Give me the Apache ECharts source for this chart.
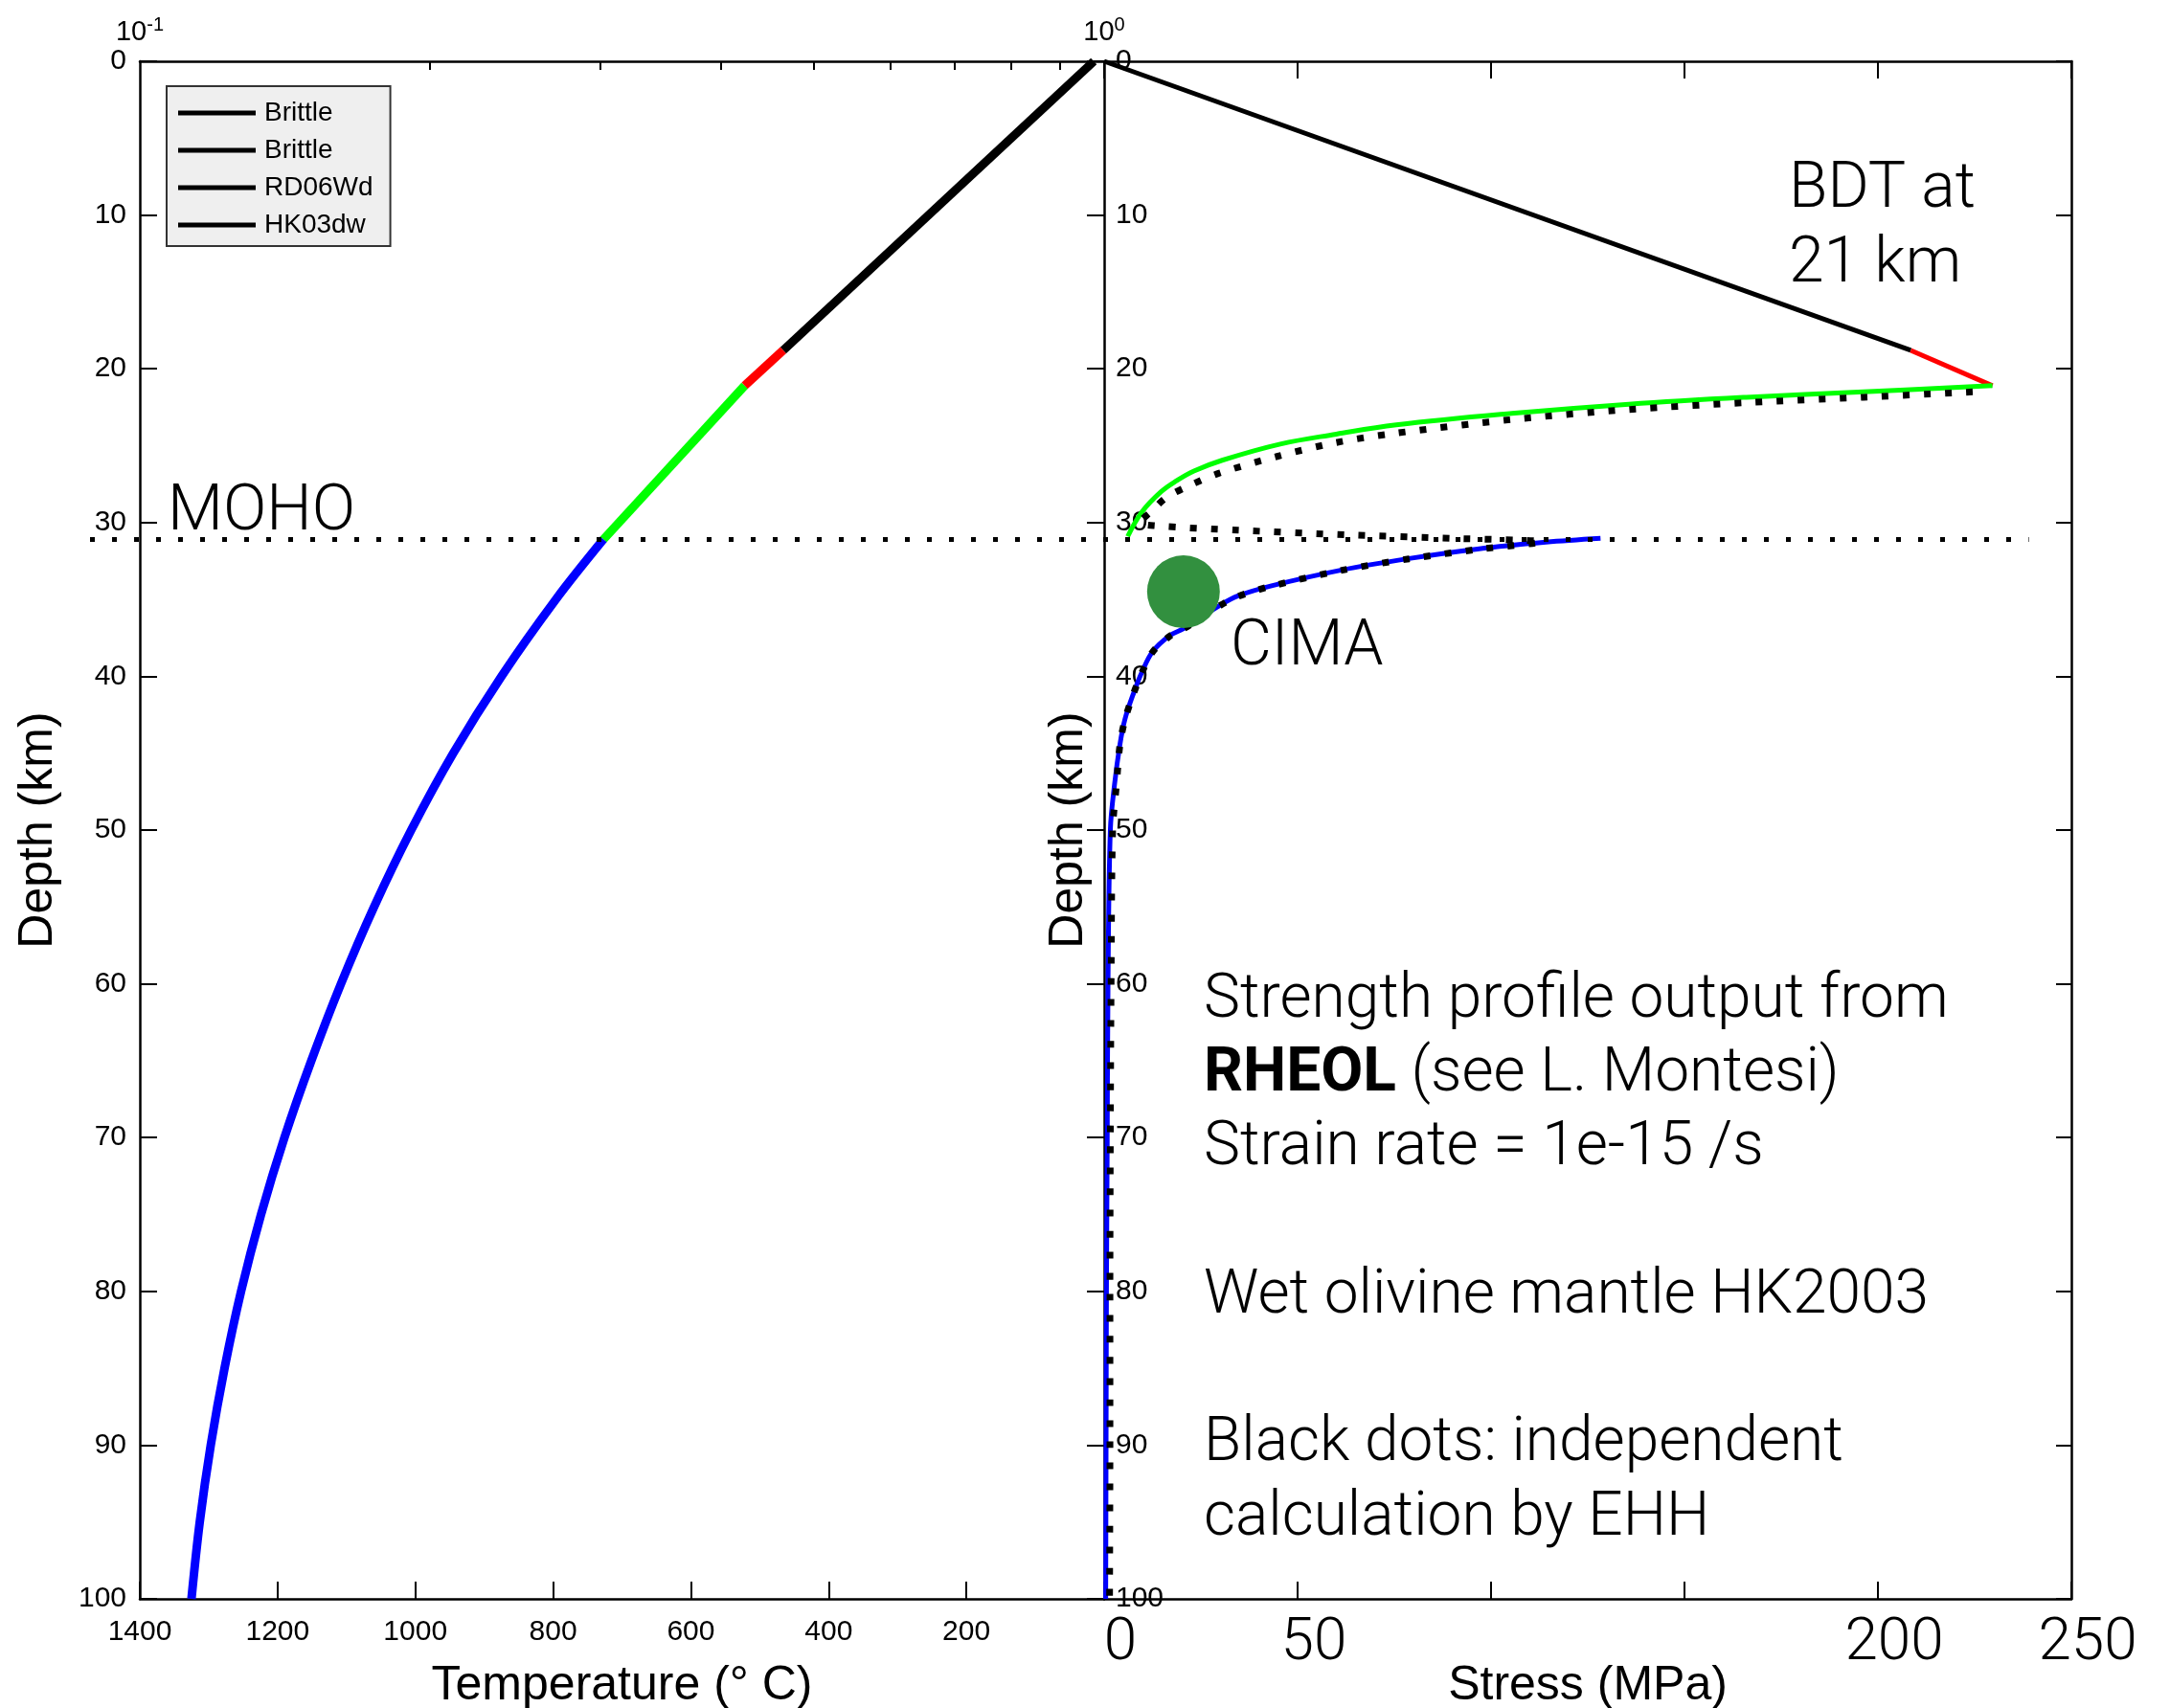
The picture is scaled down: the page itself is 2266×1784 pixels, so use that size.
<!DOCTYPE html>
<html>
<head>
<meta charset="utf-8">
<title>Strength profile</title>
<script src="https://cdn.jsdelivr.net/npm/echarts@6/dist/echarts.min.js"></script>
<style>
  html, body { margin: 0; padding: 0; background: #fff; }
  #chart { width: 2266px; height: 1784px; }
</style>
</head>
<body>
<div id="chart"></div>
<script>
// ---- data: [temperature (deg C) or stress (MPa), depth (km)] ----

// geotherm (left panel)
const geoBrittle = [[15, 0], [466, 18.8]];
const geoTransition = [[466, 18.8], [522, 21.1]];
const geoCrust = [[522, 21.1], [727, 31.1]];
const geoMantle = [
  [727, 31.1], [796, 35], [875, 40], [945, 45], [1006, 50], [1060, 55], [1108, 60],
  [1151, 65], [1190, 70], [1224, 75], [1253, 80], [1277, 85], [1297, 90], [1313, 95], [1325, 100]
];

// strength profile from RHEOL (right panel)
const sigBrittle = [[0, 0], [208.5, 18.8]];
const sigTransition = [[208.5, 18.8], [229.6, 21.1]];
const sigCrust = [
  [229.6, 21.1], [196.3, 21.5], [166, 21.85], [135.6, 22.3], [105.4, 22.9], [75.5, 23.65],
  [60, 24.25], [45.5, 24.9], [30.5, 25.95], [23.2, 26.65], [18.8, 27.27], [14.7, 28.0],
  [9.8, 29.3], [6.1, 30.9]
];
const sigMantle = [
  [128.3, 31.03], [114.2, 31.28], [96.5, 31.72], [78.8, 32.34], [61.1, 33.1], [43.5, 34.1],
  [34.6, 34.77], [29.8, 35.4], [20.5, 36.9], [16.9, 37.36], [12.5, 38.4], [9.9, 39.65],
  [7.6, 41.1], [5.4, 42.77], [4.1, 44.4], [2.7, 47], [1.6, 50], [1.0, 60], [0.8, 70],
  [0.6, 80], [0.5, 90], [0.4, 100]
];

// independent calculation (EHH), black dots
const sigEHH = [
  [224.5, 21.5], [196.3, 21.85], [166, 22.2], [135.6, 22.65], [105.4, 23.3], [75, 24.2],
  [59.9, 24.8], [44.7, 25.7], [29.6, 26.8], [22, 27.6], [15.9, 28.4], [12.1, 29.3],
  [9.2, 30.0], [12.9, 30.2], [34.6, 30.5], [62.9, 30.8], [90.3, 31.03], [113, 31.25],
  [96.5, 31.75], [78.8, 32.36], [61.1, 33.12], [43.5, 34.12], [34.6, 34.8], [29.8, 35.42],
  [20.5, 36.92], [16.9, 37.4], [12.5, 38.42], [9.9, 39.68], [7.6, 41.12], [5.4, 42.8],
  [4.1, 44.42], [3.2, 47], [2.2, 50], [1.8, 60], [1.6, 70], [1.5, 80], [1.5, 90], [1.4, 100]
];

const cimaPoint = [[20.5, 34.5]];
const mohoDepth = 31.1;
const mohoStressEnd = 239;

// axis ticks / labels
const logTickValues = [0.2, 0.3, 0.4, 0.5, 0.6, 0.7, 0.8, 0.9];
const logLabelExponents = [-1, 0];
const stressLabelValues = [0, 50, 200, 250];
const legendNames = ['Brittle', 'Brittle ', 'RD06Wd', 'HK03dw'];

const TICK_FONT = '"Liberation Sans", Arial, Helvetica, sans-serif';
const NOTE_FONT = 'Roboto, "Liberation Sans", Arial, sans-serif';

const chart = echarts.init(document.getElementById('chart'));

// frames sit on the grid edges, never on the zero of the other axis
const axisLine = { show: true, onZero: false, lineStyle: { color: '#000', width: 2.5 } };
const nameStyle = { fontSize: 50, color: '#000', fontFamily: TICK_FONT };
const tickLabel = { fontSize: 30, color: '#000', fontFamily: TICK_FONT };
function tick(inside, length) {
  return { show: true, inside: inside, length: length, lineStyle: { color: '#000', width: 2 } };
}

function line(name, xi, yi, data, color, width, z, extra) {
  return Object.assign({
    name: name,
    type: 'line',
    xAxisIndex: xi,
    yAxisIndex: yi,
    data: data,
    symbol: 'none',
    showSymbol: false,
    silent: true,
    z: z || 2,
    lineStyle: { color: color, width: width, cap: 'butt', join: 'round' }
  }, extra || {});
}

const option = {
  animation: false,
  backgroundColor: '#fff',
  // fixed panel boxes: don't let the axis names push the plots around
  grid: [
    { left: 146, top: 64, width: 1007, height: 1606, outerBoundsMode: 'none', containLabel: false },
    { left: 1153, top: 64, width: 1010, height: 1606, outerBoundsMode: 'none', containLabel: false }
  ],
  legend: {
    orient: 'vertical',
    left: 174,
    top: 90,
    data: legendNames,
    icon: 'rect',
    itemWidth: 81,
    itemHeight: 5,
    itemGap: 11,
    padding: [14, 18, 8, 12],
    backgroundColor: '#efefef',
    borderColor: '#333',
    borderWidth: 2,
    selectedMode: false,
    formatter: n => n.trim(),
    textStyle: { fontSize: 28, color: '#000', fontFamily: TICK_FONT, padding: [0, 0, 0, 4] }
  },
  xAxis: [
    {
      gridIndex: 0, type: 'value', position: 'bottom', inverse: true,
      min: 0, max: 1400, interval: 200,
      name: 'Temperature (° C)', nameLocation: 'middle', nameGap: 66, nameMoveOverlap: false,
      nameTextStyle: nameStyle,
      axisLine: axisLine,
      axisTick: tick(true, 18),
      axisLabel: Object.assign({ margin: 20, showMinLabel: true, formatter: v => v === 0 ? '' : String(v) }, tickLabel),
      splitLine: { show: false }
    },
    {
      gridIndex: 0, type: 'value', position: 'top', min: -1, max: 0,
      axisLine: axisLine,
      axisTick: Object.assign(tick(true, 9), { customValues: logTickValues.map(Math.log10) }),
      axisLabel: {
        customValues: logLabelExponents,
        margin: 12,
        color: '#000',
        formatter: v => '{a|10}{s|' + v + '}',
        rich: {
          a: { fontSize: 29, fontFamily: TICK_FONT, color: '#000' },
          s: { fontSize: 20, fontFamily: TICK_FONT, color: '#000', padding: [0, 0, 16, 0] }
        }
      },
      splitLine: { show: false }
    },
    {
      gridIndex: 1, type: 'value', position: 'bottom', min: 0, max: 250, interval: 50,
      name: 'Stress (MPa)', nameLocation: 'middle', nameGap: 66, nameMoveOverlap: false,
      nameTextStyle: nameStyle,
      axisLine: axisLine,
      axisTick: tick(true, 18),
      axisLabel: {
        customValues: stressLabelValues, margin: 16, fontSize: 62, fontWeight: 300,
        fontFamily: NOTE_FONT, color: '#000', padding: [0, 0, 0, 34]
      },
      splitLine: { show: false }
    },
    {
      gridIndex: 1, type: 'value', position: 'top', min: 0, max: 250, interval: 50,
      axisLine: axisLine,
      axisTick: tick(true, 18),
      axisLabel: { show: false },
      splitLine: { show: false }
    }
  ],
  yAxis: [
    {
      gridIndex: 0, type: 'value', position: 'left', inverse: true, min: 0, max: 100, interval: 10,
      name: 'Depth (km)', nameLocation: 'middle', nameGap: 81, nameMoveOverlap: false,
      nameTextStyle: nameStyle,
      axisLine: axisLine,
      axisTick: tick(true, 18),
      axisLabel: Object.assign({ margin: 14, showMinLabel: true, showMaxLabel: true }, tickLabel),
      splitLine: { show: false }
    },
    {
      gridIndex: 1, type: 'value', position: 'left', inverse: true, min: 0, max: 100, interval: 10,
      name: 'Depth (km)', nameLocation: 'middle', nameGap: 12, nameMoveOverlap: false,
      nameTextStyle: nameStyle,
      axisLine: axisLine,
      axisTick: tick(false, 18),
      axisLabel: Object.assign({ inside: true, margin: 12, showMinLabel: true, showMaxLabel: true }, tickLabel),
      splitLine: { show: false }
    },
    {
      gridIndex: 1, type: 'value', position: 'right', inverse: true, min: 0, max: 100, interval: 10,
      axisLine: axisLine,
      axisTick: tick(true, 16),
      axisLabel: { show: false },
      splitLine: { show: false }
    }
  ],
  series: [
    // legend entries (all black in the original)
    line('Brittle', 0, 0, [], '#000', 4, 1, { color: '#000' }),
    line('Brittle ', 0, 0, [], '#000', 4, 1, { color: '#000' }),
    line('RD06Wd', 0, 0, [], '#000', 4, 1, { color: '#000' }),
    line('HK03dw', 0, 0, [], '#000', 4, 1, { color: '#000' }),

    // temperature profile
    line('geo-brittle', 0, 0, geoBrittle, '#000000', 9),
    line('geo-transition', 0, 0, geoTransition, '#ff0000', 9),
    line('geo-crust', 0, 0, geoCrust, '#00ff00', 9),
    line('geo-mantle', 0, 0, geoMantle, '#0000ff', 9, 2, { smooth: 0.35 }),

    // strength profile
    line('sig-brittle', 2, 1, sigBrittle, '#000000', 5),
    line('sig-transition', 2, 1, sigTransition, '#ff0000', 5),
    line('sig-crust', 2, 1, sigCrust, '#00ff00', 5, 3, { smooth: 0.4 }),
    line('sig-mantle', 2, 1, sigMantle, '#0000ff', 5, 3, { smooth: 0.35 }),
    {
      name: 'EHH', type: 'line', xAxisIndex: 2, yAxisIndex: 1, data: sigEHH,
      symbol: 'none', silent: true, z: 4, smooth: 0.3,
      lineStyle: { color: '#000', width: 7, type: [7, 15], cap: 'butt' }
    },
    {
      name: 'CIMA', type: 'scatter', xAxisIndex: 2, yAxisIndex: 1, data: cimaPoint,
      symbol: 'circle', symbolSize: 76, silent: true, z: 6,
      itemStyle: { color: '#32903f', opacity: 1 }
    }
  ],
  graphic: [
    {
      id: 'moho-label', type: 'text', x: 175, y: 536, z: 20,
      style: { text: 'MOHO', fontSize: 67, fontWeight: 300, fontFamily: NOTE_FONT, fill: '#000', verticalAlign: 'middle' }
    },
    {
      id: 'bdt-label', type: 'text', x: 1868, y: 161, z: 20,
      style: { text: 'BDT at\n21 km', fontSize: 66, lineHeight: 77.5, fontWeight: 300, fontFamily: NOTE_FONT, fill: '#000', verticalAlign: 'top' }
    },
    {
      id: 'cima-label', type: 'text', x: 1285, y: 677, z: 20,
      style: { text: 'CIMA', fontSize: 66, fontWeight: 300, fontFamily: NOTE_FONT, fill: '#000', verticalAlign: 'middle' }
    },
    {
      id: 'notes', type: 'text', x: 1257, y: 1007, z: 20,
      style: {
        text: 'Strength profile output from\n{b|RHEOL} (see L. Montesi)\nStrain rate = 1e-15 /s\n \nWet olivine mantle HK2003\n \nBlack dots: independent\ncalculation by EHH',
        fontSize: 64, lineHeight: 77.3, fontWeight: 300, fontFamily: NOTE_FONT, fill: '#000', verticalAlign: 'top',
        rich: { b: { fontSize: 64, lineHeight: 77.3, fontWeight: 'bold', fontFamily: NOTE_FONT, fill: '#000' } }
      }
    }
  ]
};

chart.setOption(option);

// MOHO dotted line across both panels, placed through the axes' own scales
const mohoOverhang = 52;
const mohoY = chart.convertToPixel({ yAxisIndex: 0 }, mohoDepth);
const mohoX0 = chart.convertToPixel({ xAxisIndex: 0 }, 1400) - mohoOverhang;
const mohoX1 = chart.convertToPixel({ xAxisIndex: 2 }, mohoStressEnd);
chart.setOption({
  graphic: [{
    id: 'moho-line', type: 'line', z: 5,
    shape: { x1: mohoX0, y1: mohoY, x2: mohoX1, y2: mohoY },
    style: { stroke: '#000', lineWidth: 5, lineDash: [5, 18] }
  }]
});
</script>
</body>
</html>
